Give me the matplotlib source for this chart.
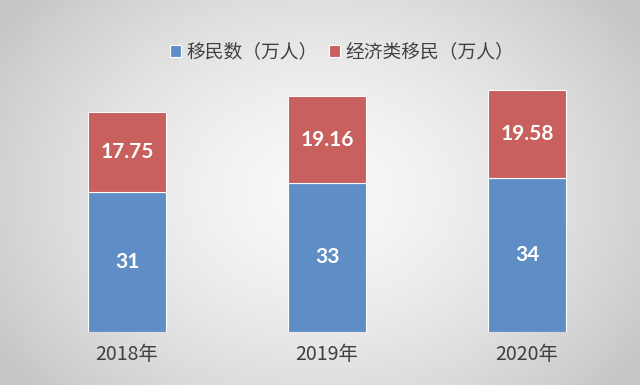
import matplotlib
matplotlib.use("Agg")
import matplotlib.pyplot as plt
import numpy as np

years = ["2018年", "2019年", "2020年"]
migrants = [31, 33, 34]
economic = [17.75, 19.16, 19.58]
labels_migrants = ["31", "33", "34"]
labels_economic = ["17.75", "19.16", "19.58"]
series_names = ["移民数（万人）", "经济类移民（万人）"]

blue = "#5f8dc6"
red = "#c8605d"
text_color = "#404040"

plt.rcParams['font.family'] = ['Noto Sans CJK SC', 'DejaVu Sans']

fig = plt.figure(figsize=(6.4, 3.85), dpi=100)

# background gradient
bg = fig.add_axes([0, 0, 1, 1], zorder=0)
xx, yy = np.meshgrid(np.linspace(-1, 1, 320), np.linspace(-1, 1, 200))
r = np.sqrt((xx / 1.0) ** 2 + (yy / 1.3) ** 2)
val = 0.975 - 0.15 * np.clip(r, 0, 1.2) ** 1.5
img = np.dstack([val, val, val])
bg.imshow(img, aspect='auto', extent=[0, 1, 0, 1], origin='lower')
bg.set_axis_off()

ax = fig.add_axes([27 / 640, (385 - 332) / 385, 600 / 640, 271.2 / 385], zorder=1)
ax.patch.set_alpha(0)
x = np.arange(len(years))
w = 0.39
b1 = ax.bar(x, migrants, width=w, color=blue, edgecolor="white", linewidth=0.8, label=series_names[0])
b2 = ax.bar(x, economic, width=w, bottom=migrants, color=red, edgecolor="white", linewidth=0.8, label=series_names[1])

for i in range(len(years)):
    ax.text(x[i], migrants[i] / 2, labels_migrants[i], ha='center', va='center',
            color='white', fontsize=15, fontweight='bold', family=['Lato', 'DejaVu Sans'])
    ax.text(x[i], migrants[i] + economic[i] / 2, labels_economic[i], ha='center', va='center',
            color='white', fontsize=15, fontweight='bold', family=['Lato', 'DejaVu Sans'])

ax.set_xlim(-0.5, 2.5)
ax.set_ylim(0, 60)
ax.set_xticks(x)
ax.set_xticklabels(years, fontsize=14, color=text_color)
ax.tick_params(axis='x', length=0, pad=9)
ax.set_yticks([])
for s in ax.spines.values():
    s.set_visible(False)

leg = fig.legend(handles=[b1, b2], loc='center', bbox_to_anchor=(342 / 640, 1 - 52 / 385),
                 ncol=2, frameon=False, fontsize=13.5, handlelength=0.6, handleheight=0.6,
                 handletextpad=0.3, columnspacing=0.6, labelcolor=text_color)

fig.savefig("out.png", dpi=100)
